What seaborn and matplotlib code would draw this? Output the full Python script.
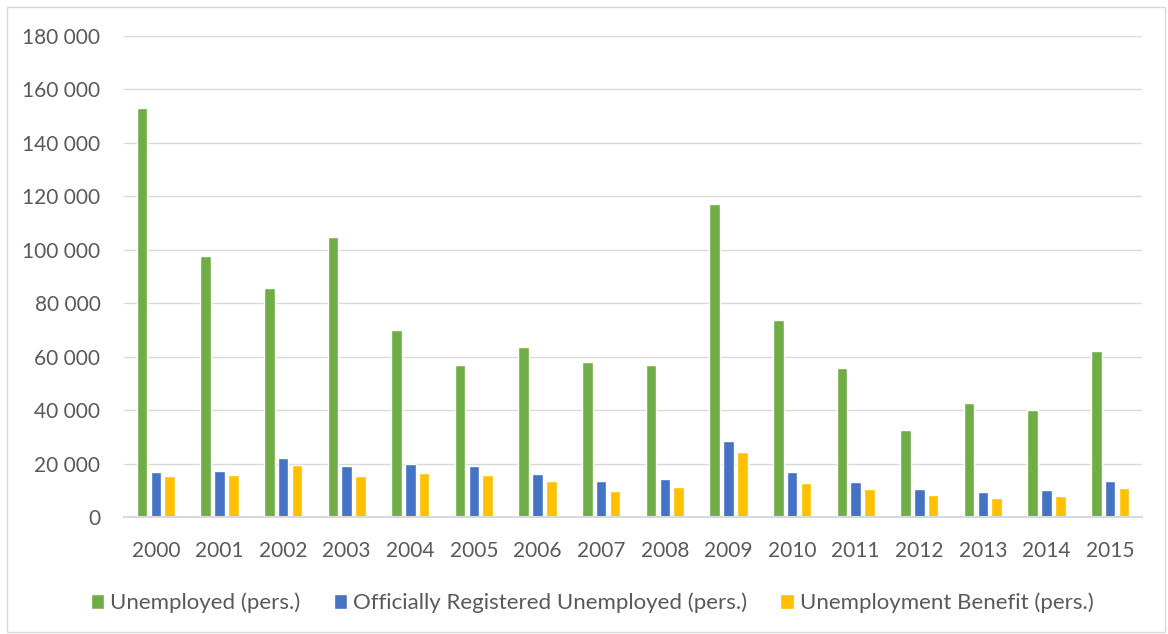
import matplotlib
matplotlib.use("Agg")
import matplotlib.pyplot as plt
import matplotlib.ticker as mticker
from matplotlib.patches import Rectangle
import seaborn as sns
import pandas as pd

years = ["2000", "2001", "2002", "2003", "2004", "2005", "2006", "2007",
         "2008", "2009", "2010", "2011", "2012", "2013", "2014", "2015"]
unemployed = [153000, 97900, 85900, 104700, 69900, 56900, 63800, 57900,
              56900, 117100, 73900, 55700, 32800, 42700, 40200, 62200]
registered = [17100, 17500, 22100, 19300, 20000, 19300, 16100, 13600,
              14300, 28600, 17000, 13300, 10600, 9500, 10300, 13600]
benefit = [15500, 15900, 19500, 15500, 16600, 15900, 13600, 10000,
           11400, 24300, 12900, 10600, 8400, 7300, 8000, 10900]
series_names = ["Unemployed (pers.)",
                "Officially Registered Unemployed (pers.)",
                "Unemployment Benefit (pers.)"]
colors = ["#70AD47", "#4472C4", "#FFC000"]

rows = []
for name, vals in zip(series_names, [unemployed, registered, benefit]):
    for y, v in zip(years, vals):
        rows.append({"year": y, "series": name, "value": v})
df = pd.DataFrame(rows)

sns.set_theme(style="white")
plt.rcParams["font.family"] = ["Lato", "DejaVu Sans"]
text_color = "#595959"

fig = plt.figure(figsize=(11.68, 6.34), dpi=100)
ax = fig.add_axes([124 / 1168, 1 - 517.3 / 634, (1142 - 124) / 1168, (517.3 - 36) / 634])

sns.barplot(data=df, x="year", y="value", hue="series", order=years,
            hue_order=series_names, palette=colors, width=0.65, gap=0.23,
            saturation=1, errorbar=None, ax=ax, legend=True)

ax.set_ylim(0, 180000)
ax.set_xlim(-0.5, len(years) - 0.5)
ax.yaxis.set_major_locator(mticker.MultipleLocator(20000))
ax.yaxis.set_major_formatter(mticker.FuncFormatter(
    lambda v, p: f"{int(v):,}".replace(",", " ")))
ax.grid(axis="y", color="#D9D9D9", linewidth=1.0)
ax.set_axisbelow(True)
for s in ["top", "right", "left"]:
    ax.spines[s].set_visible(False)
ax.spines["bottom"].set_color("#D9D9D9")
ax.spines["bottom"].set_linewidth(1.5)
ax.tick_params(axis="y", length=0, pad=17, labelsize=15, labelcolor=text_color)
ax.tick_params(axis="x", length=0, pad=17, labelsize=15, labelcolor=text_color)
ax.set_xlabel("")
ax.set_ylabel("")

handles, labels = ax.get_legend_handles_labels()
ax.get_legend().remove()
leg = fig.legend(handles, labels, loc="center",
                 bbox_to_anchor=(0.5 + 8 / 1168, 1 - 603 / 634),
                 ncol=3, frameon=False, fontsize=16, handlelength=0.62,
                 handleheight=0.62, handletextpad=0.25, columnspacing=1.5)
for t in leg.get_texts():
    t.set_color(text_color)

fig.patches.append(Rectangle((7 / 1168, 2 / 634), 1158 / 1168, 625 / 634,
                             transform=fig.transFigure, fill=False,
                             edgecolor="#D9D9D9", linewidth=1.0))

fig.savefig("out.png", dpi=100)
